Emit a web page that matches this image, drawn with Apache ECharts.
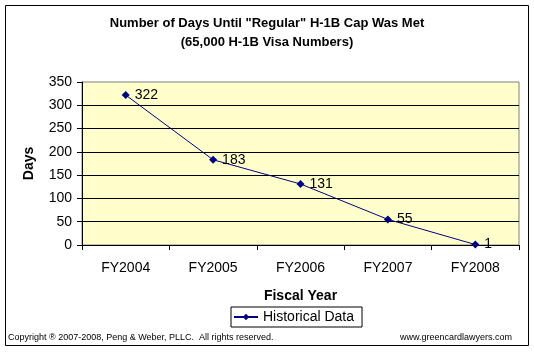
<!DOCTYPE html>
<html><head><meta charset="utf-8">
<script src="https://cdn.jsdelivr.net/npm/echarts@6/dist/echarts.min.js"></script>
<style>html,body{margin:0;padding:0;background:#fff}#c{width:534px;height:355px}</style>
</head><body><div id="c"></div>
<script>
var categories = ['FY2004','FY2005','FY2006','FY2007','FY2008'];
var days = [322, 183, 131, 55, 1];
var yTicks = {min: 0, max: 350, interval: 50};
var FONT = '"Liberation Sans", Arial, sans-serif';
var chart = echarts.init(document.getElementById('c'));
chart.setOption({
  animation: false,
  backgroundColor: '#fff',
  title: {
    text: 'Number of Days Until "Regular" H-1B Cap Was Met\n(65,000 H-1B Visa Numbers)',
    left: 'center', top: 9,
    textStyle: {fontFamily: FONT, fontSize: 13, fontWeight: 'bold', color: '#000', lineHeight: 19}
  },
  grid: {left: 82, top: 82, right: 15, bottom: 110, show: true, backgroundColor: '#FFFFCC', borderColor: '#808080', borderWidth: 1},
  xAxis: {
    type: 'category', data: categories, boundaryGap: true,
    name: 'Fiscal Year', nameLocation: 'middle', nameGap: 44,
    nameTextStyle: {fontFamily: FONT, fontSize: 14, fontWeight: 'bold', color: '#000'},
    axisLine: {lineStyle: {color: '#000', width: 1}},
    axisTick: {show: true, inside: false, length: 5, alignWithLabel: false, lineStyle: {color: '#000'}},
    axisLabel: {fontFamily: FONT, fontSize: 14, color: '#000', margin: 16},
    splitLine: {show: false}
  },
  yAxis: {
    type: 'value', min: yTicks.min, max: yTicks.max, interval: yTicks.interval,
    name: 'Days', nameLocation: 'middle', nameGap: 46, nameRotate: 90,
    nameTextStyle: {fontFamily: FONT, fontSize: 14, fontWeight: 'bold', color: '#000'},
    axisLine: {show: true, lineStyle: {color: '#000', width: 1}},
    axisTick: {show: true, length: 5, lineStyle: {color: '#000'}},
    axisLabel: {fontFamily: FONT, fontSize: 14, color: '#000', margin: 10},
    splitLine: {show: true, showMaxLine: false, lineStyle: {color: '#000', width: 1}}
  },
  legend: {
    data: ['Historical Data'], left: 231, top: 307,
    itemWidth: 24, itemHeight: 8, itemGap: 5,
    padding: [3, 8, 3, 2],
    borderColor: '#000', borderWidth: 1, backgroundColor: '#fff', borderRadius: 0,
    textStyle: {fontFamily: FONT, fontSize: 14, color: '#000'}
  },
  series: [{
    name: 'Historical Data', type: 'line', data: days,
    symbol: 'diamond', symbolSize: 8,
    lineStyle: {color: '#000080', width: 1},
    itemStyle: {color: '#000080'},
    label: {show: true, position: 'right', distance: 5, fontFamily: FONT, fontSize: 14, color: '#000'}
  }],
  graphic: [
    {type: 'rect', shape: {x: 5.5, y: 5.5, width: 523, height: 340}, style: {fill: 'none', stroke: '#000', lineWidth: 1}, silent: true, z: -1},
    {type: 'text', left: 8, top: 333, style: {text: 'Copyright \u00ae 2007-2008, Peng & Weber, PLLC.  All rights reserved.', font: '9px ' + FONT, fill: '#000'}},
    {type: 'text', right: 22, top: 333, style: {text: 'www.greencardlawyers.com', font: '9px ' + FONT, fill: '#000'}}
  ]
});
</script></body></html>
